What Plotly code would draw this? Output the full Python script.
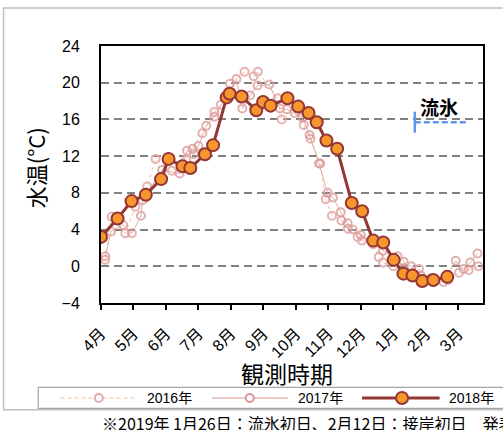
import plotly.graph_objects as go

# ---------------- data (x = months since 1 April) ----------------
month_labels = ["4月", "5月", "6月", "7月", "8月", "9月", "10月", "11月", "12月", "1月", "2月", "3月"]
y_ticks = [-4, 0, 4, 8, 12, 16, 20, 24]
y_tick_text = ["\u22124", "0", "4", "8", "12", "16", "20", "24"]

x2016 = [0.13, 0.33, 0.75, 1.06, 1.42, 1.68, 2.18, 2.62, 2.82, 3.12, 3.49, 3.69, 3.97, 4.42, 4.70, 4.83,
         5.44, 5.56, 5.96, 6.24, 6.45, 6.75, 6.92, 7.11, 7.40, 7.60, 7.90, 8.03, 8.38, 8.55, 8.68, 9.00,
         9.32, 9.79, 10.15, 10.69, 11.02, 11.32, 11.62]
t2016 = [0.7, 5.4, 3.6, 6.5, 8.7, 11.7, 10.4, 11.6, 12.8, 14.5, 16.8, 17.6, 19.9, 21.2, 20.7, 21.2,
         18.3, 16.0, 16.7, 15.4, 13.9, 11.2, 7.3, 5.5, 5.0, 4.1, 3.2, 2.8, 2.4, 1.0, 0.4, 0.0,
         -0.2, -0.3, -1.3, -1.5, -0.7, -0.4, 0.0]

x2017 = [0.13, 0.31, 0.68, 0.95, 1.23, 1.28, 1.88, 2.42, 2.65, 2.86, 3.00, 3.24, 3.49, 4.17, 4.35, 4.59,
         4.82, 5.18, 5.51, 5.72, 6.20, 6.42, 6.71, 6.98, 7.14, 7.38, 7.59, 7.75, 8.00, 8.68, 9.13, 9.32,
         9.55, 9.84, 10.54, 10.92, 11.16, 11.37, 11.59]
t2017 = [1.1, 3.8, 4.5, 3.6, 5.5, 7.2, 10.5, 10.1, 12.6, 12.2, 13.1, 15.3, 16.3, 20.4, 17.2, 18.6,
         19.7, 19.8, 17.2, 17.1, 16.2, 14.3, 11.2, 8.0, 7.5, 5.9, 4.7, 4.0, 3.4, 1.7, 1.1, 0.5,
         0.0, -1.0, -1.7, 0.6, -0.3, 0.4, 1.4]

x2018 = [0.00, 0.51, 0.94, 1.38, 1.85, 2.08, 2.51, 2.75, 3.20, 3.45, 3.87, 3.96, 4.33, 4.78, 4.99, 5.22,
         5.74, 6.07, 6.39, 6.64, 6.94, 7.27, 7.72, 8.04, 8.38, 8.69, 9.01, 9.31, 9.59, 9.89, 10.23, 10.66]
t2018 = [3.2, 5.2, 7.1, 7.8, 9.5, 11.7, 10.9, 10.7, 12.2, 13.2, 18.4, 18.8, 18.5, 17.0, 17.9, 17.5,
         18.3, 17.4, 16.7, 15.7, 13.7, 12.8, 6.9, 6.0, 2.8, 2.6, 0.7, -0.8, -1.0, -1.6, -1.5, -1.15]

ice_x = [9.66, 11.30]
ice_y = [15.7, 15.7]
ice_label = "流氷"

series_names = ["2016年", "2017年", "2018年"]
footnote = "※2019年 1月26日：流氷初日、2月12日：接岸初日　発表"

# ---------------- styles ----------------
W, H = 503, 430
ML, MR, MT, MB = 100.5, 20.3, 46.0, 126.5
PW, PH = W - ML - MR, H - MT - MB

def px_x(px):
    return (px - ML) / PW

def px_y(py):
    return (H - MB - py) / PH

JP = "Noto Sans CJK JP"
NUM = "Liberation Sans, Noto Sans CJK JP"

c16_line, c16_mk = "#F9C092", "#E3ABAA"
c17_line, c17_mk = "#D99694", "#D99694"
c18_line, c18_mk = "#943634", "#F8962E"

fig = go.Figure()
fig.add_trace(go.Scatter(x=x2016, y=t2016, mode="lines+markers", name=series_names[0],
                         line=dict(color=c16_line, width=1, dash="4px,3px"),
                         marker=dict(symbol="circle-open", size=8, color=c16_mk, line=dict(width=2, color=c16_mk)),
                         opacity=0.9, showlegend=False))
fig.add_trace(go.Scatter(x=x2017, y=t2017, mode="lines+markers", name=series_names[1],
                         line=dict(color=c17_line, width=1),
                         marker=dict(symbol="circle-open", size=8, color=c17_mk, line=dict(width=2, color=c17_mk)),
                         opacity=0.75, showlegend=False))
fig.add_trace(go.Scatter(x=x2018, y=t2018, mode="lines+markers", name=series_names[2],
                         line=dict(color=c18_line, width=3),
                         marker=dict(symbol="circle", size=12, color=c18_mk, line=dict(width=2, color=c18_line)),
                         showlegend=False))
# 流氷 period marker
fig.add_trace(go.Scatter(x=ice_x, y=ice_y, mode="lines", line=dict(color="#6495ED", width=2.5, dash="6px,3px"),
                         showlegend=False, hoverinfo="skip"))
fig.add_trace(go.Scatter(x=[ice_x[0]], y=[ice_y[0]], mode="markers",
                         marker=dict(symbol="line-ns", size=15, line=dict(width=2.5, color="#6495ED")),
                         showlegend=False, hoverinfo="skip"))

fig.add_annotation(x=(ice_x[0] + ice_x[1]) / 2 - 0.06, y=17.4, text=ice_label, showarrow=False,
                   font=dict(family=JP, size=19, color="black", weight="bold"))

shapes = []
# outer frame
shapes.append(dict(type="rect", xref="paper", yref="paper", x0=px_x(3), x1=px_x(520), y0=px_y(410.5), y1=px_y(8),
                   line=dict(color="#BFBFBF", width=1.5), fillcolor="rgba(0,0,0,0)", layer="below"))
# legend box
shapes.append(dict(type="rect", xref="paper", yref="paper", x0=px_x(37.7), x1=px_x(515), y0=px_y(409), y1=px_y(388),
                   line=dict(color="#A6A6A6", width=1.2), fillcolor="white", layer="above"))

ly = 398.7
leg = [
    (60, 135, 98.3, 145, c16_line, 1.2, "4px,3px", c16_mk, "white", 8, 2),
    (211.7, 287.3, 249.3, 296, c17_line, 1.2, "solid", c17_mk, "white", 8, 2),
    (361.7, 439.3, 401.7, 446.7, c18_line, 3, "solid", c18_line, c18_mk, 12, 2),
]
for i, (a, b, m, t, lc, lw, ld, mc, mf, ms, mlw) in enumerate(leg):
    shapes.append(dict(type="line", xref="paper", yref="paper", x0=px_x(a), x1=px_x(b), y0=px_y(ly), y1=px_y(ly),
                       line=dict(color=lc, width=lw, dash=ld), layer="above"))
    r = ms / 2
    shapes.append(dict(type="circle", xref="paper", yref="paper", xsizemode="pixel", ysizemode="pixel",
                       xanchor=px_x(m), yanchor=px_y(ly), x0=-r, x1=r, y0=-r, y1=r,
                       line=dict(color=mc, width=mlw), fillcolor=mf, layer="above"))
    fig.add_annotation(xref="paper", yref="paper", x=px_x(t), y=px_y(ly), xanchor="left", yanchor="middle",
                       text=series_names[i], showarrow=False, font=dict(family=NUM, size=14, color="black"))

# axis titles
fig.add_annotation(xref="paper", yref="paper", x=px_x(34), y=px_y(168), xanchor="center", yanchor="middle",
                   text="水温(°C)", textangle=-90,
                   showarrow=False, font=dict(family=JP, size=22, color="black"))
fig.add_annotation(xref="paper", yref="paper", x=px_x(287), y=px_y(374), xanchor="center", yanchor="middle",
                   text="観測時期", showarrow=False, borderpad=0, font=dict(family=JP, size=23, color="black"))
# footnote
fig.add_annotation(xref="paper", yref="paper", x=px_x(99), y=px_y(424), xanchor="left", yanchor="middle",
                   text=footnote, showarrow=False, font=dict(family=JP, size=16, color="black"))
# cut-off heading at very top
fig.add_annotation(xref="paper", yref="paper", x=px_x(12), y=px_y(6), xanchor="left", yanchor="bottom",
                   text="海水温", showarrow=False, font=dict(family=JP, size=32, color="black"))

fig.update_layout(
    width=W, height=H, margin=dict(l=ML, r=MR, t=MT, b=MB),
    paper_bgcolor="white", plot_bgcolor="white", shapes=shapes, showlegend=False,
    xaxis=dict(range=[0, 11.76], tickvals=list(range(12)), ticktext=month_labels, tickangle=-45,
               ticks="outside", ticklen=5, tickwidth=1.5, tickcolor="black", ticklabelstandoff=8,
               showline=True, linecolor="black", linewidth=2, mirror=True, showgrid=False, zeroline=False,
               tickfont=dict(family=NUM, size=16, color="black")),
    yaxis=dict(range=[-4, 24], tickvals=y_ticks, ticktext=y_tick_text, ticks="",
               showline=True, linecolor="black", linewidth=2, mirror=True, zeroline=False,
               showgrid=True, gridcolor="#808080", gridwidth=2, griddash="8px,5px",
               ticklabelstandoff=16, tickfont=dict(family=NUM, size=16, color="black")),
)

fig.write_html("out.html", config={"displayModeBar": False},
               post_script="document.body.style.margin='0';document.body.style.overflow='hidden';")
